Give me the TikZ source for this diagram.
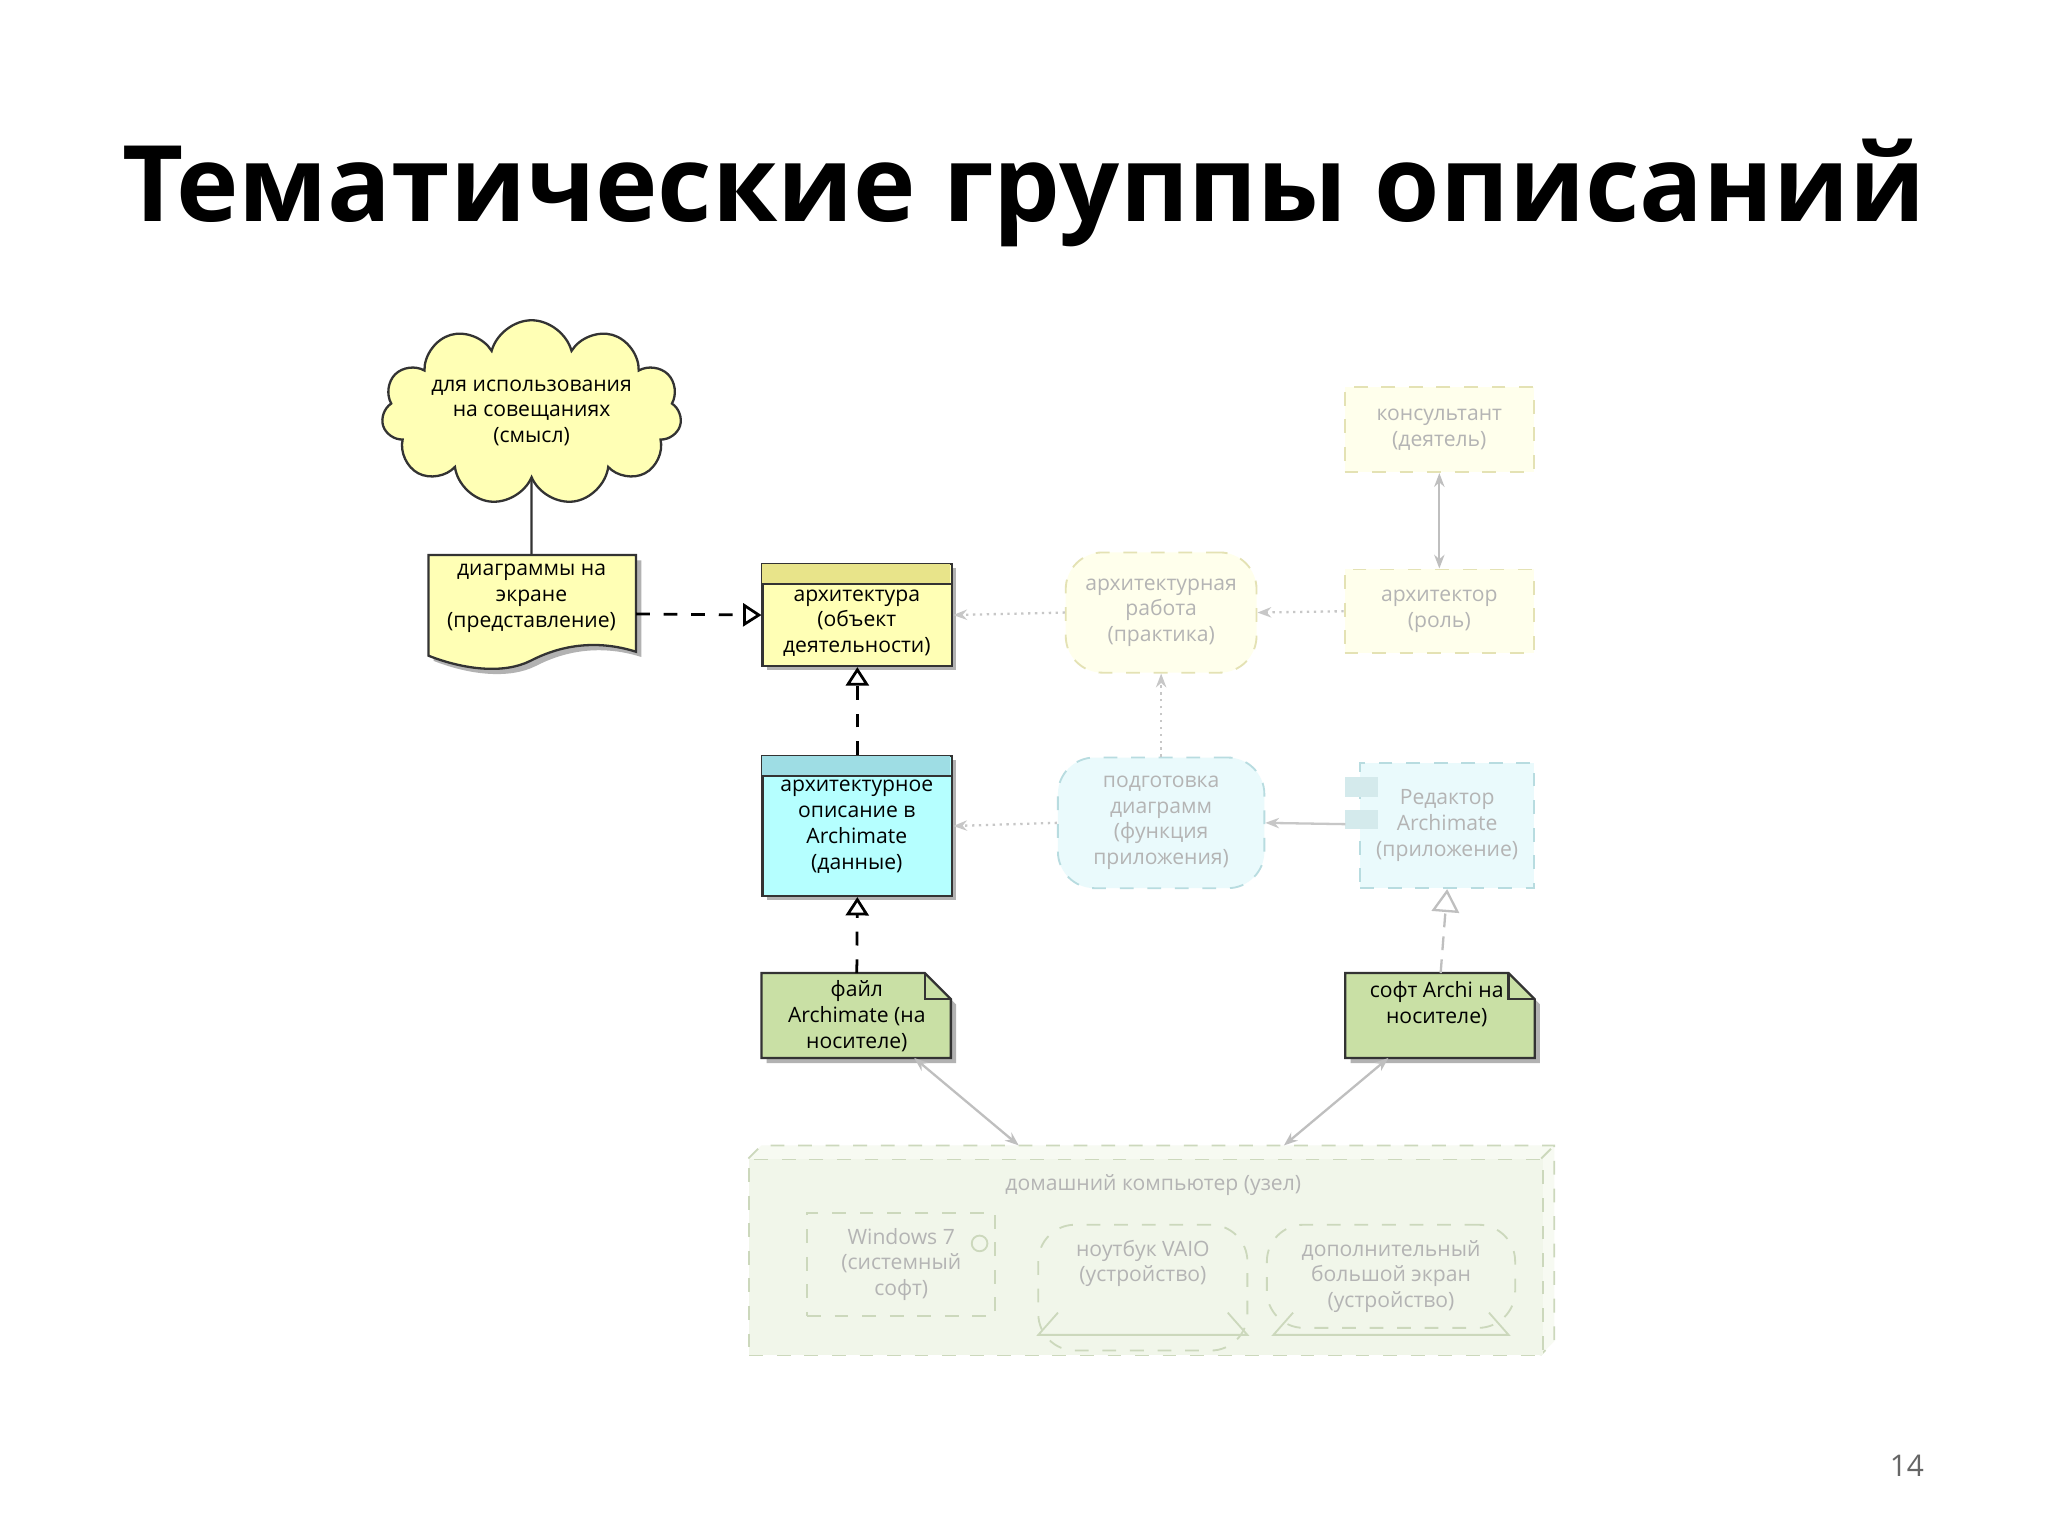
\documentclass[tikz,border=0pt]{standalone}
\usepackage{fontspec}
\setmainfont{Open Sans}
\usetikzlibrary{shapes.symbols,arrows.meta}
\definecolor{yel}{HTML}{FFFFB5}
\definecolor{yelh}{HTML}{E8E48A}
\definecolor{cya}{HTML}{B5FFFF}
\definecolor{cyah}{HTML}{9EDDE4}
\definecolor{grn}{HTML}{C9E0A5}
\definecolor{fyel}{HTML}{FFFFEC}
\definecolor{fyeld}{HTML}{E4E2B4}
\definecolor{fcya}{HTML}{EAFAFC}
\definecolor{fcyad}{HTML}{B8DCE0}
\definecolor{fgrn}{HTML}{F1F6EA}
\definecolor{fgrnd}{HTML}{CCD8BC}
\definecolor{ftxt}{HTML}{B4B4B4}
\tikzset{
 txt/.style={font=\fontsize{4.6}{5.6}\selectfont, align=center, text=black},
 ftx/.style={font=\fontsize{4.6}{5.6}\selectfont, align=center, text=ftxt},
 shad/.style={drop shadow={shadow xshift=0.04cm,shadow yshift=-0.04cm,fill=gray!60}},
 solidbox/.style={draw=black!80, line width=0.5pt},
 fadebox/.style={draw, dashed, line width=0.4pt},
 real/.style={dashed, line width=0.6pt, -{Triangle[open,length=4pt,width=5pt]}},
 fadearr/.style={densely dotted, draw=black!22, line width=0.5pt, -{Stealth[length=3pt]}},
 fadeln/.style={draw=black!25, line width=0.5pt},
}
\usetikzlibrary{shadows}
\begin{document}
\begin{tikzpicture}[x=0.01cm,y=-0.01cm]
\fill[white] (0,0) rectangle (1568,1176);
\node[font=\bfseries\fontsize{23}{26}\selectfont] (title) at (784,148) {Тематические группы описаний};
\node[font=\fontsize{6.5}{8}\selectfont, text=black!60] (pg) at (1460,1122) {14};

% cloud
\node[cloud, cloud puffs=11, aspect=2.2, fill=yel, draw=black!80, line width=0.5pt, minimum width=1.9cm, minimum height=0.95cm, inner sep=0pt, txt] (cl) at (407,316) {для использования\\на совещаниях\\(смысл)};

% document
\fill[gray!60] (332,429) -- (491,429) -- (491,503) .. controls (450,490) and (420,505) .. (410,510) .. controls (390,520) and (360,517) .. (332,506) -- cycle;
\draw[fill=yel, draw=black!80, line width=0.5pt] (328,425) -- (487,425) -- (487,499) .. controls (446,486) and (416,501) .. (406,506) .. controls (386,516) and (356,513) .. (328,502) -- cycle;
\node[txt] (doc) at (407,458) {диаграммы на\\экране\\(представление)};
\coordinate (docR) at (487,470);
\coordinate (docT) at (407,425);
\draw[black!80, line width=0.5pt] (cl.south) -- (docT);

% архитектура
\fill[gray!60] (587,435) rectangle (732,513);
\node[solidbox, fill=yel, minimum width=1.45cm, minimum height=0.78cm, anchor=north west, inner sep=0pt] (arch) at (583,431) {};
\fill[yelh] (583.5,431.5) rectangle (727.5,447);
\draw[black!80, line width=0.5pt] (583,447) -- (728,447);
\node[txt] at (656,477) {архитектура\\(объект\\деятельности)};

% описание
\fill[gray!60] (587,582) rectangle (732,689);
\node[solidbox, fill=cya, minimum width=1.45cm, minimum height=1.07cm, anchor=north west, inner sep=0pt] (desc) at (583,578) {};
\fill[cyah] (583.5,578.5) rectangle (727.5,594);
\draw[black!80, line width=0.5pt] (583,594) -- (728,594);
\node[txt] at (656,633) {архитектурное\\описание в\\Archimate\\(данные)};

% файл artifact
\fill[gray!60] (587,749) -- (712,749) -- (732,769) -- (732,814) -- (587,814) -- cycle;
\draw[fill=grn, draw=black!80, line width=0.5pt] (583,745) -- (708,745) -- (728,765) -- (728,810) -- (583,810) -- cycle;
\draw[black!80, line width=0.5pt] (708,745) -- (708,765) -- (728,765);
\node[txt] (file) at (656,778) {файл\\Archimate (на\\носителе)};
\coordinate (fileT) at (656,745);
\coordinate (fileB) at (700,810);

% софт
\fill[gray!60] (1034,749) -- (1159,749) -- (1179,769) -- (1179,814) -- (1034,814) -- cycle;
\draw[fill=grn, draw=black!80, line width=0.5pt] (1030,745) -- (1155,745) -- (1175,765) -- (1175,810) -- (1030,810) -- cycle;
\draw[black!80, line width=0.5pt] (1155,745) -- (1155,765) -- (1175,765);
\node[txt] (soft) at (1100,769) {софт Archi на\\носителе)};
\coordinate (softT) at (1103,745);
\coordinate (softB) at (1063,810);

% real arrows
\draw[real] (docR) -- (arch.west);
\draw[real] (desc.north) -- (arch.south);
\draw[real] (fileT) -- (desc.south);

% faded elements
\node[fadebox, draw=fyeld, fill=fyel, rounded corners=8pt, minimum width=1.46cm, minimum height=0.92cm, ftx] (work) at (889,469) {архитектурная\\работа\\(практика)};
\node[fadebox, draw=fyeld, fill=fyel, minimum width=1.45cm, minimum height=0.64cm, ftx] (role) at (1102,468) {архитектор\\(роль)};
\node[fadebox, draw=fyeld, fill=fyel, minimum width=1.45cm, minimum height=0.65cm, ftx] (cons) at (1102,329) {консультант\\(деятель)};
\node[fadebox, draw=fcyad, fill=fcya, rounded corners=8pt, minimum width=1.58cm, minimum height=1.0cm, ftx] (prep) at (889,630) {подготовка\\диаграмм\\(функция\\приложения)};
\node[fadebox, draw=fcyad, fill=fcya, minimum width=1.33cm, minimum height=0.96cm, ftx] (edit) at (1108,632) {Редактор\\Archimate\\(приложение)};
\fill[fcyad!60] (1030,595) rectangle (1055,610);
\fill[fcyad!60] (1030,620) rectangle (1055,635);

% faded connectors
\draw[fadearr] (work.west) -- (arch.east);
\draw[fadearr] (role.west) -- (work.east);
\draw[fadeln, {Stealth[length=3pt]}-{Stealth[length=3pt]}] (cons.south) -- (role.north);
\draw[fadearr, densely dotted] (prep.north) -- (work.south);
\draw[fadearr] (prep.west) -- (desc.east);
\draw[fadearr, solid] (1030,631) -- (prep.east);
\draw[densely dashed, draw=black!25, line width=0.5pt, -{Triangle[open,length=5pt,width=6pt]}] (softT) -- (edit.south);

% node (3D)
\draw[fgrnd, dashed, fill=fgrn!60] (573,887) -- (583,877) -- (1190,877) -- (1190,1027) -- (1180,1037) -- cycle;
\node[fadebox, draw=fgrnd, fill=fgrn, minimum width=6.07cm, minimum height=1.5cm, anchor=north west, inner sep=0pt] (pc) at (573,887) {};
\draw[fgrnd, dashed] (1180,887) -- (1190,877);
\node[ftx] at (883,907) {домашний компьютер (узел)};
\node[fadebox, draw=fgrnd, minimum width=1.44cm, minimum height=0.63cm, ftx] (win) at (690,968) {Windows 7\\(системный\\софт)};
\draw[fgrnd] (750,952) circle (6);
\node[fadebox, draw=fgrnd, rounded corners=8pt, minimum width=1.6cm, minimum height=0.68cm, ftx, anchor=north] (nb) at (875,937) {ноутбук VAIO\\(устройство)\\[6pt]};
\draw[fgrnd] (810,1005) -- (795,1022) -- (955,1022) -- (940,1005);
\node[fadebox, draw=fgrnd, rounded corners=8pt, minimum width=1.9cm, minimum height=0.68cm, ftx, anchor=north] (scr) at (1065,937) {дополнительный\\большой экран\\(устройство)};
\draw[fgrnd] (990,1005) -- (975,1022) -- (1155,1022) -- (1140,1005);
\coordinate (pcA) at (780,877);
\coordinate (pcB) at (983,877);
\draw[fadeln, {Stealth[length=3pt]}-{Stealth[length=3pt]}] (fileB) -- (pcA);
\draw[fadeln, {Stealth[length=3pt]}-{Stealth[length=3pt]}] (softB) -- (pcB);
\end{tikzpicture}
\end{document}
